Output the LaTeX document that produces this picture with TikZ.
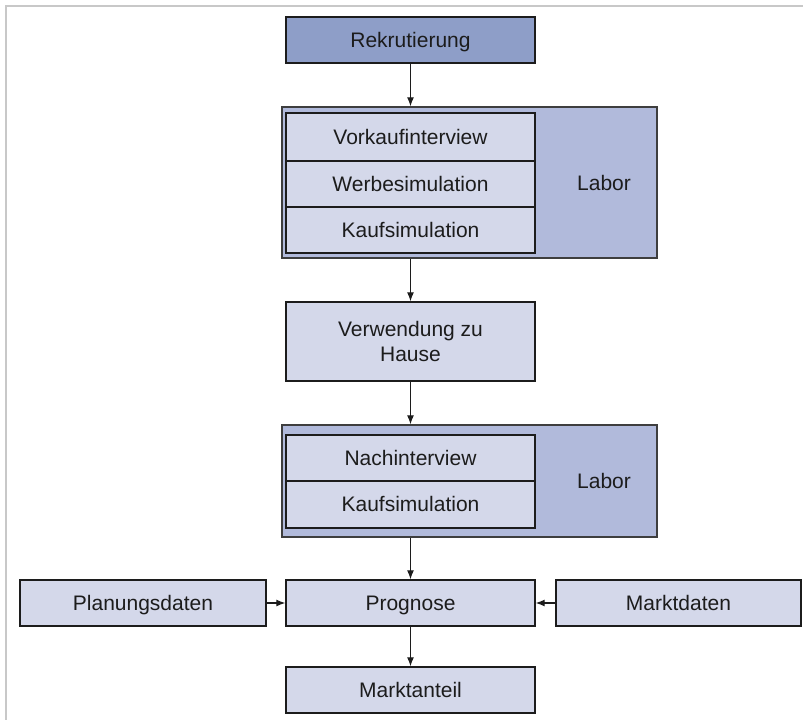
\documentclass[tikz,border=0pt]{standalone}
\usepackage{fontspec}
\setmainfont{Liberation Sans}
\usetikzlibrary{arrows.meta}
\definecolor{headfill}{HTML}{8E9EC8}
\definecolor{groupfill}{HTML}{B1BADB}
\definecolor{boxfill}{HTML}{D4D8EA}
\definecolor{edge}{HTML}{1C1C1C}
\definecolor{framegray}{HTML}{C8C8C8}
\tikzset{
  stagebox/.style={draw=edge, line width=1.4pt, fill=boxfill, inner sep=0pt,
    align=center, text=edge, font=\fontsize{21}{25}\selectfont},
  oneline/.style={text height=15pt, text depth=1pt},
  groupbox/.style={draw=edge!85, line width=1.4pt, fill=groupfill, inner sep=0pt},
  grouplabel/.style={text=edge, font=\fontsize{21}{25}\selectfont, oneline},
  flow/.style={draw=edge, line width=1.2pt, -{Latex[length=9pt,width=7pt]}},
}
\begin{document}
\begin{tikzpicture}[x=1pt,y=-1pt]
  \useasboundingbox (0,0) rectangle (803,720);
  % light page frame
  \draw[framegray, line width=2pt] (6,720) -- (6,6) -- (803,6);

  % recruiting
  \node[stagebox, oneline, fill=headfill, minimum width=249pt, minimum height=46pt] (rek) at (410.5,40) {Rekrutierung};

  % first lab session
  \node[groupbox, minimum width=375pt, minimum height=151pt] (lab1) at (469.5,182.5) {};
  \node[stagebox, oneline, minimum width=249pt, minimum height=48pt] (vork) at (410.5,137) {Vorkaufinterview};
  \node[stagebox, oneline, minimum width=249pt, minimum height=46pt] (werb) at (410.5,184) {Werbesimulation};
  \node[stagebox, oneline, minimum width=249pt, minimum height=46pt] (kauf1) at (410.5,230) {Kaufsimulation};
  \node[grouplabel] (lab1txt) at (604,183) {Labor};

  % home use
  \node[stagebox, minimum width=249pt, minimum height=79pt] (verw) at (410.5,341.5) {Verwendung zu\\Hause};

  % second lab session
  \node[groupbox, minimum width=375pt, minimum height=112pt] (lab2) at (469.5,481) {};
  \node[stagebox, oneline, minimum width=249pt, minimum height=46pt] (nach) at (410.5,458) {Nachinterview};
  \node[stagebox, oneline, minimum width=249pt, minimum height=47pt] (kauf2) at (410.5,504.5) {Kaufsimulation};
  \node[grouplabel] (lab2txt) at (604,481) {Labor};

  % forecast row
  \node[stagebox, oneline, minimum width=246pt, minimum height=46pt] (plan) at (143,603) {Planungsdaten};
  \node[stagebox, oneline, minimum width=249pt, minimum height=46pt] (progn) at (410.5,603) {Prognose};
  \node[stagebox, oneline, minimum width=245pt, minimum height=46pt] (markt) at (678.5,603) {Marktdaten};

  % result
  \node[stagebox, oneline, minimum width=249pt, minimum height=46pt] (anteil) at (410.5,690) {Marktanteil};

  % connectors
  \draw[flow] (rek.south) -- (rek.south |- lab1.north);
  \draw[flow] (kauf1.south |- lab1.south) -- (verw.north);
  \draw[flow] (verw.south) -- (verw.south |- lab2.north);
  \draw[flow] (kauf2.south |- lab2.south) -- (progn.north);
  \draw[flow] (progn.south) -- (anteil.north);
  \draw[flow] (plan.east) -- (progn.west);
  \draw[flow] (markt.west) -- (progn.east);
\end{tikzpicture}
\end{document}
